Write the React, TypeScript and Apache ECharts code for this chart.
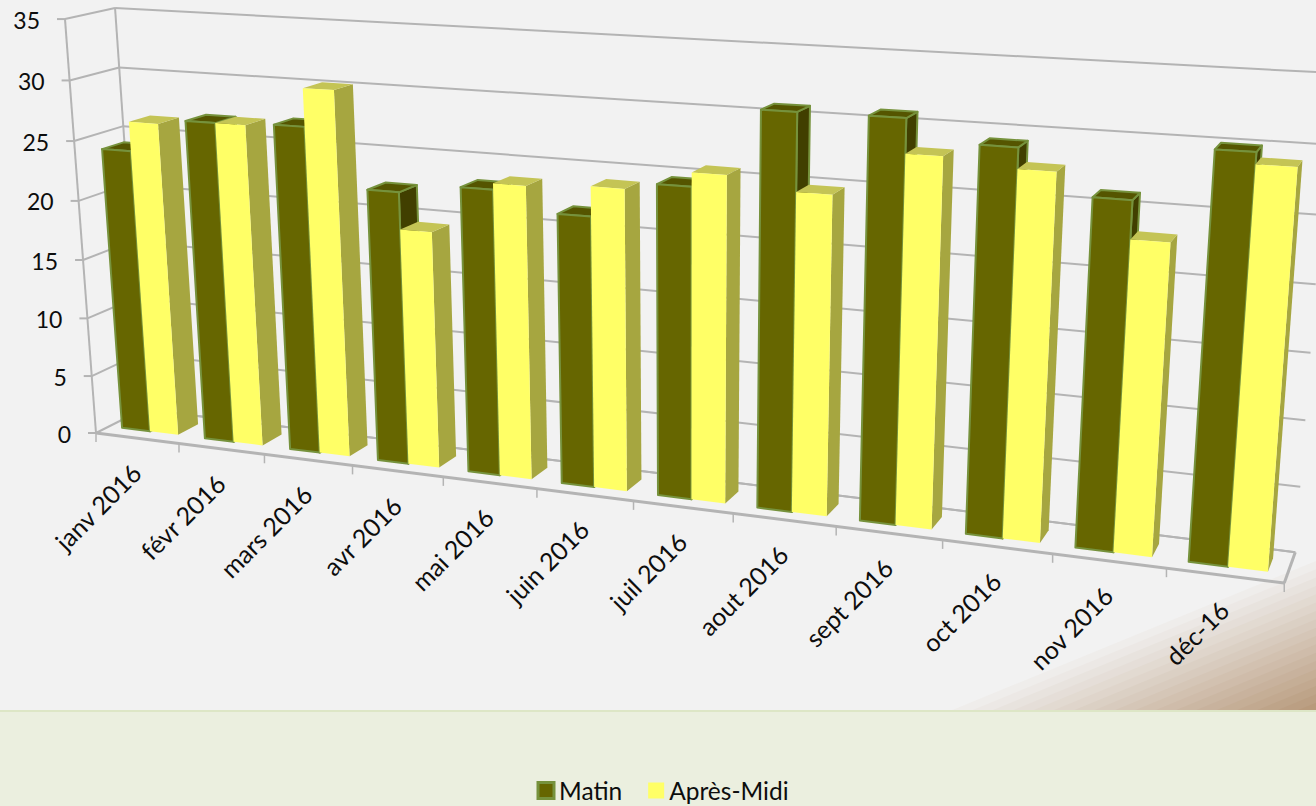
import React, { useEffect, useRef } from "react";
import * as echarts from "echarts";

const categories = ["janv 2016", "févr 2016", "mars 2016", "avr 2016", "mai 2016", "juin 2016", "juil 2016", "aout 2016", "sept 2016", "oct 2016", "nov 2016", "déc-16"];
const matin = [24.05, 26.9, 27.1, 22.4, 23.2, 21.7, 24.6, 30.75, 30.8, 29.2, 26.0, 29.95];
const apresMidi = [26.5, 26.9, 30.2, 19.4, 23.7, 24.05, 25.7, 24.8, 28.2, 27.65, 23.2, 29.1];
const yTicks = [0, 5, 10, 15, 20, 25, 30, 35];

// Hidden flat plane carrying ECharts' scales; its pixels are re-projected in perspective.
const G = { left: 100, top: 100, width: 1200, height: 350 };
const FONT = "Lato";
const GRID = "#b4b4b4";

function project(u: number, v: number, z: number): number[] {
  const w = 1 - 0.0145 * u - 0.00122 * v + 0.0329 * z;
  const x = 96 + 80.4 * u - 0.965 * v + 51.7 * z + 0.02 * u * v;
  const y = 433 + 4.05 * u - 11.85 * v - 10.3 * z + 0.25 * z * u;
  return [x / w, y / w];
}
function toModel(api: any, cat: number, val: number): number[] {
  const c = api.coord([cat, val]);
  return [((c[0] - G.left) / G.width) * 12, ((G.top + G.height - c[1]) / G.height) * 35];
}
const Z_FRONT = 0.28;
const Z_BACK = 0.72;
const BAR_W = 0.34;

function barRenderer(offset: number, colors: { front: string; top: string; side: string; stroke: string; sw: number }) {
  return (_p: any, api: any) => {
    const [uc, v] = toModel(api, api.value(0), api.value(1));
    const a = uc + offset;
    const b = a + BAR_W;
    const poly = (pts: number[][], fill: string) => ({
      type: "polygon",
      shape: { points: pts },
      style: { fill, stroke: colors.stroke, lineWidth: colors.sw, lineJoin: "round" },
    });
    return {
      type: "group",
      children: [
        poly([project(b, 0, Z_FRONT), project(b, 0, Z_BACK), project(b, v, Z_BACK), project(b, v, Z_FRONT)], colors.side),
        poly([project(a, v, Z_FRONT), project(b, v, Z_FRONT), project(b, v, Z_BACK), project(a, v, Z_BACK)], colors.top),
        poly([project(a, 0, Z_FRONT), project(b, 0, Z_FRONT), project(b, v, Z_FRONT), project(a, v, Z_FRONT)], colors.front),
      ],
    };
  };
}
const seg = (p: number[], q: number[], width = 2) => ({
  type: "line",
  shape: { x1: p[0], y1: p[1], x2: q[0], y2: q[1] },
  style: { stroke: GRID, lineWidth: width },
});

function yFrame(_p: any, api: any) {
  const tick = api.value(1);
  const [, v] = toModel(api, 0, tick);
  const f = project(0, v, 0);
  return {
    type: "group",
    children: [
      seg(project(0, v, 1), project(12, v, 1)),
      seg(f, project(0, v, 1)),
      seg(f, [f[0] - 8, f[1]]),
      {
        type: "text",
        x: f[0] - 25,
        y: f[1] + 0.5,
        style: { text: String(tick), fontFamily: FONT, fontSize: 23, fill: "#0d0d0d", align: "right", verticalAlign: "middle" },
      },
    ],
  };
}
function xFrame(_p: any, api: any) {
  const idx = api.value(0);
  const [uc] = toModel(api, idx, 0);
  const c = project(uc, 0, 0);
  const t = project(uc + 0.5, 0, 0);
  return {
    type: "group",
    children: [
      seg(t, [t[0], t[1] + 9], 1.5),
      {
        type: "text",
        x: c[0] - 1,
        y: c[1] + 30,
        rotation: Math.PI / 4,
        style: { text: categories[idx], fontFamily: FONT, fontSize: 25, fill: "#0d0d0d", align: "right", verticalAlign: "middle" },
      },
    ],
  };
}
function boxFrame() {
  const a = project(0, 0, 0), b = project(12, 0, 0), c = project(12, 0, 1), d = project(0, 0, 1), e = project(0, 35, 0), f = project(0, 35, 1);
  return {
    type: "group",
    children: [seg(a, b, 3), seg(b, c, 3), seg(c, d), seg(a, e), seg(d, f), seg(a, [a[0], a[1] + 9], 1.5)],
  };
}

function cornerBands() {
  const n = 18;
  const x0 = 950;
  const from = [242, 242, 242];
  const to = [184, 154, 124];
  const out: any[] = [];
  for (let i = 0; i < n; i++) {
    const s = x0 + (i / n) * (1316 - x0);
    const t = (i + 1) / n;
    const col = from.map((c, k) => Math.round(c + (to[k] - c) * t));
    out.push({
      type: "polygon",
      z: 0,
      silent: true,
      shape: { points: [[s, 711], [1316, 711], [1316, 711 - (1316 - s) * 0.41]] },
      style: { fill: `rgb(${col.join(",")})` },
    });
  }
  return out;
}

export default function App() {
  const ref = useRef<HTMLDivElement>(null);
  useEffect(() => {
    const chart = echarts.init(ref.current!, undefined, { renderer: "svg" });
    chart.setOption({
      animation: false,
      backgroundColor: "#f2f2f2",
      grid: { ...G },
      xAxis: { type: "category", data: categories, show: false },
      yAxis: { type: "value", min: 0, max: 35, interval: 5, show: false },
      legend: {
        left: 536.5,
        top: 778,
        padding: 0,
        itemWidth: 16,
        itemHeight: 16,
        itemGap: 26,
        icon: "rect",
        selectedMode: false,
        textStyle: { fontFamily: FONT, fontSize: 24.5, color: "#0d0d0d" },
        data: [
          { name: "Matin", itemStyle: { color: "#666600", borderColor: "#76923c", borderWidth: 3 } },
          { name: "Après-Midi", itemStyle: { color: "#ffff66", borderWidth: 0 } },
        ],
      },
      graphic: {
        elements: [
          ...cornerBands(),
          { type: "rect", z: 0, silent: true, shape: { x: 0, y: 711, width: 1316, height: 95 }, style: { fill: "#ebefdf" } },
          { type: "rect", z: 0, silent: true, shape: { x: 0, y: 710, width: 1316, height: 2 }, style: { fill: "#dde6c6" } },
        ],
      },
      series: [
        { type: "custom", silent: true, z: 1, renderItem: boxFrame, data: [[0, 0]], encode: { x: 0, y: 1 } },
        { type: "custom", silent: true, z: 1, renderItem: yFrame, data: yTicks.map((t) => [0, t]), encode: { x: 0, y: 1 } },
        { type: "custom", silent: true, z: 1, renderItem: xFrame, data: categories.map((_c, i) => [i, 0]), encode: { x: 0, y: 1 } },
        {
          type: "custom",
          name: "Matin",
          silent: true,
          z: 2,
          renderItem: barRenderer(-0.345, { front: "#666600", top: "#555500", side: "#413f00", stroke: "#76923c", sw: 2 }),
          data: matin.map((v, i) => [i, v]),
          encode: { x: 0, y: 1 },
          itemStyle: { color: "#666600" },
        },
        {
          type: "custom",
          name: "Après-Midi",
          silent: true,
          z: 3,
          renderItem: barRenderer(-0.005, { front: "#ffff66", top: "#c4c455", side: "#a6a640", stroke: "none", sw: 0 }),
          data: apresMidi.map((v, i) => [i, v]),
          encode: { x: 0, y: 1 },
          itemStyle: { color: "#ffff66" },
        },
      ],
    });
    return () => chart.dispose();
  }, []);
  return <div ref={ref} style={{ position: "fixed", left: 0, top: 0, width: 1316, height: 806 }} />;
}
